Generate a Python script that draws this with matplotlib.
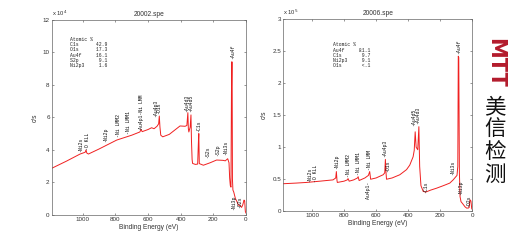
import matplotlib
matplotlib.use("Agg")
import matplotlib.pyplot as plt

# ---- spectrum 20002.spe (counts in units of 1e4 c/s) ----
be_left = [1190, 1100, 1016, 985, 980, 975, 965, 900, 792, 700, 650, 643, 636, 600, 578, 563,
           545, 535, 531, 527, 522, 510, 470, 404, 373, 362, 356, 353, 350, 342, 337, 334, 330,
           327, 310, 296, 291, 289, 286, 261, 220, 180, 140, 127, 112, 104, 100, 96, 92, 89, 87,
           85, 83, 80, 75, 65, 55, 47, 35, 27, 20, 12, 8, 4, 0]
cps_left = [2.86, 3.30, 3.74, 3.85, 3.99, 3.80, 3.74, 4.05, 4.60, 4.90, 5.10, 5.26, 5.12, 5.25,
            5.36, 5.30, 5.45, 5.60, 6.08, 5.40, 4.90, 4.80, 4.95, 5.47, 5.45, 5.50, 6.29, 5.30,
            5.10, 5.40, 6.15, 4.60, 3.40, 3.16, 3.10, 3.12, 4.60, 5.00, 3.15, 3.05, 3.20, 3.37,
            3.35, 3.32, 3.45, 3.20, 2.26, 1.80, 1.70, 7.50, 9.43, 9.40, 2.20, 1.52, 1.40, 1.00,
            0.80, 0.60, 0.55, 0.45, 0.60, 0.90, 0.85, 0.20, 0.10]
el_left = ["C1s", "O1s", "Au4f", "S2p", "Ni2p3"]
pct_left = ["42.9", "17.3", "16.1", "9.1", "1.6"]
lab_left = ["-Ni2s", "-O KLL", "-Ni2p", "-Ni LMM2", "-Ni LMM1", "Au4p1-Ni LMM", "-Au4p3", "-O1s",
            "-Au4d3", "-Au4d5", "-C1s", "-S2s", "-S2p", "-Ni3s", "-Au4f", "-Ni3p", "-O2s"]
lab_left_be = [1012, 970, 857, 782, 720, 639, 556, 534, 366, 338, 288, 237, 176, 122, 84, 74, 38]
lab_left_y = [3.88, 3.99, 4.5, 4.8, 5.0, 5.3, 6.04, 6.2, 6.35, 6.35, 5.1, 3.5, 3.6, 3.7, 9.6, 0.3, 0.4]

# ---- spectrum 20006.spe (counts in units of 1e5 c/s) ----
be_right = [1180, 1100, 1035, 950, 869, 852, 848, 844, 842, 800, 780, 775, 768, 740, 716, 712,
            706, 670, 648, 640, 634, 600, 556, 546, 542, 538, 535, 500, 452, 410, 390, 369, 362,
            356, 350, 340, 333, 328, 320, 306, 290, 260, 223, 180, 140, 119, 102, 95, 90, 87, 84,
            80, 76, 70, 60, 45, 35, 25, 19, 14, 8, 3, 0]
cps_right = [0.43, 0.44, 0.45, 0.47, 0.49, 0.52, 0.62, 0.48, 0.45, 0.47, 0.49, 0.51, 0.47, 0.49,
             0.52, 0.54, 0.48, 0.52, 0.56, 0.62, 0.50, 0.52, 0.57, 0.60, 0.81, 0.60, 0.50, 0.52,
             0.57, 0.65, 0.72, 0.85, 0.95, 1.24, 1.00, 0.96, 1.32, 0.70, 0.40, 0.31, 0.30, 0.33,
             0.36, 0.40, 0.44, 0.49, 0.54, 0.56, 0.70, 2.42, 2.40, 0.60, 0.23, 0.15, 0.12, 0.07,
             0.05, 0.05, 0.06, 0.18, 0.16, 0.04, 0.03]
el_right = ["Au4f", "C1s", "Ni2p3", "O1s"]
pct_right = ["81.1", "9.7", "9.1", "<.1"]
lab_right = ["-Ni2s", "-O KLL", "-Ni2p", "-Ni LMM2", "-Ni LMM1", "-Ni LMM", "-Au4p3", "-O1s",
             "-Au4d5", "-Au4d3", "-C1s", "-Ni3s", "-Au4f", "-Ni3p", "-O2s"]
lab_right_be = [1012, 976, 848, 775, 712, 644, 548, 528, 364, 340, 292, 119, 83, 70, 19]
lab_right_y = [0.46, 0.45, 0.66, 0.54, 0.57, 0.64, 0.85, 0.62, 1.33, 1.36, 0.28, 0.57, 2.46, 0.25, 0.07]

fig = plt.figure(figsize=(5.13, 2.42), dpi=100)
sans = "Liberation Sans"
mono = "Liberation Mono"


def draw_panel(ax, be, cps, xmax, ymax, yticks, ytl, title, expo, els, pcts, labs, lab_be, lab_y,
               txt_xy, below=None):
    ax.plot(be, cps, color="#f02020", linewidth=0.7)
    ax.set_xlim(xmax, 0)
    ax.set_ylim(0, ymax)
    ax.set_xticks([1000, 800, 600, 400, 200, 0])
    ax.set_yticks(yticks)
    ax.set_yticklabels(ytl)
    ax.tick_params(direction="in", length=1.6, width=0.4, labelsize=4.5, pad=1.5,
                   top=True, right=True, colors="#444444", labelcolor="#333333")
    for s in ax.spines.values():
        s.set_linewidth(0.5)
        s.set_color("#666666")
    for t in ax.get_xticklabels() + ax.get_yticklabels():
        t.set_fontfamily(sans)
    ax.set_xlabel("Binding Energy (eV)", fontsize=4.8, family=sans, labelpad=1.5, color="#333333")
    ax.set_ylabel("c/s", fontsize=4.8, family=sans, labelpad=3, color="#333333")
    ax.set_title(title, fontsize=4.8, family=sans, pad=3, color="#333333")
    ax.text(0.0, 1.008, expo, transform=ax.transAxes, fontsize=4.2, family=sans,
            ha="left", va="bottom", color="#333333")
    for name, b, y in zip(labs, lab_be, lab_y):
        ax.text(b, y, name, rotation=90, fontsize=3.5, family=mono, ha="center", va="bottom",
                color="#111111")
    if below:
        ax.text(below[1], below[2], below[0], rotation=90, fontsize=3.5, family=mono,
                ha="center", va="top", color="#111111")
    lines = ["Atomic %"] + [f"{e:<8}{p:>5}" for e, p in zip(els, pcts)]
    for i, line in enumerate(lines):
        ax.text(txt_xy[0], txt_xy[1] - i * 0.027, line, transform=ax.transAxes, fontsize=3.4,
                family=mono, ha="left", va="center", color="#222222")


ax1 = fig.add_axes([0.1008, 0.1128, 0.3787, 0.8045])
draw_panel(ax1, be_left, cps_left, 1190, 12, [0, 2, 4, 6, 8, 10, 12],
           ["0", "2", "4", "6", "8", "10", "12"], "20002.spe", "x 10$^4$",
           el_left, pct_left, lab_left, lab_left_be, lab_left_y, (0.094, 0.90))

ax2 = fig.add_axes([0.552, 0.1269, 0.3685, 0.7946])
draw_panel(ax2, be_right, cps_right, 1180, 3, [0, 0.5, 1, 1.5, 2, 2.5, 3],
           ["0", "0.5", "1", "1.5", "2", "2.5", "3"], "20006.spe", "x 10$^5$",
           el_right, pct_right, lab_right, lab_right_be, lab_right_y, (0.263, 0.865),
           below=("Au4p1-", 646, 0.46))

# logo on the right edge
fig.text(0.9655, 0.742, "MTT", rotation=-90, fontsize=15, fontweight="bold", family="DejaVu Sans",
         color="#b31b2c", ha="center", va="center")
for i, ch in enumerate("美信检测"):
    fig.text(0.9655, 0.557 - i * 0.093, ch, fontsize=15.5, family=["Noto Sans CJK SC", "DejaVu Sans"],
             color="#111111", ha="center", va="center")

fig.savefig("out.png", dpi=100)
